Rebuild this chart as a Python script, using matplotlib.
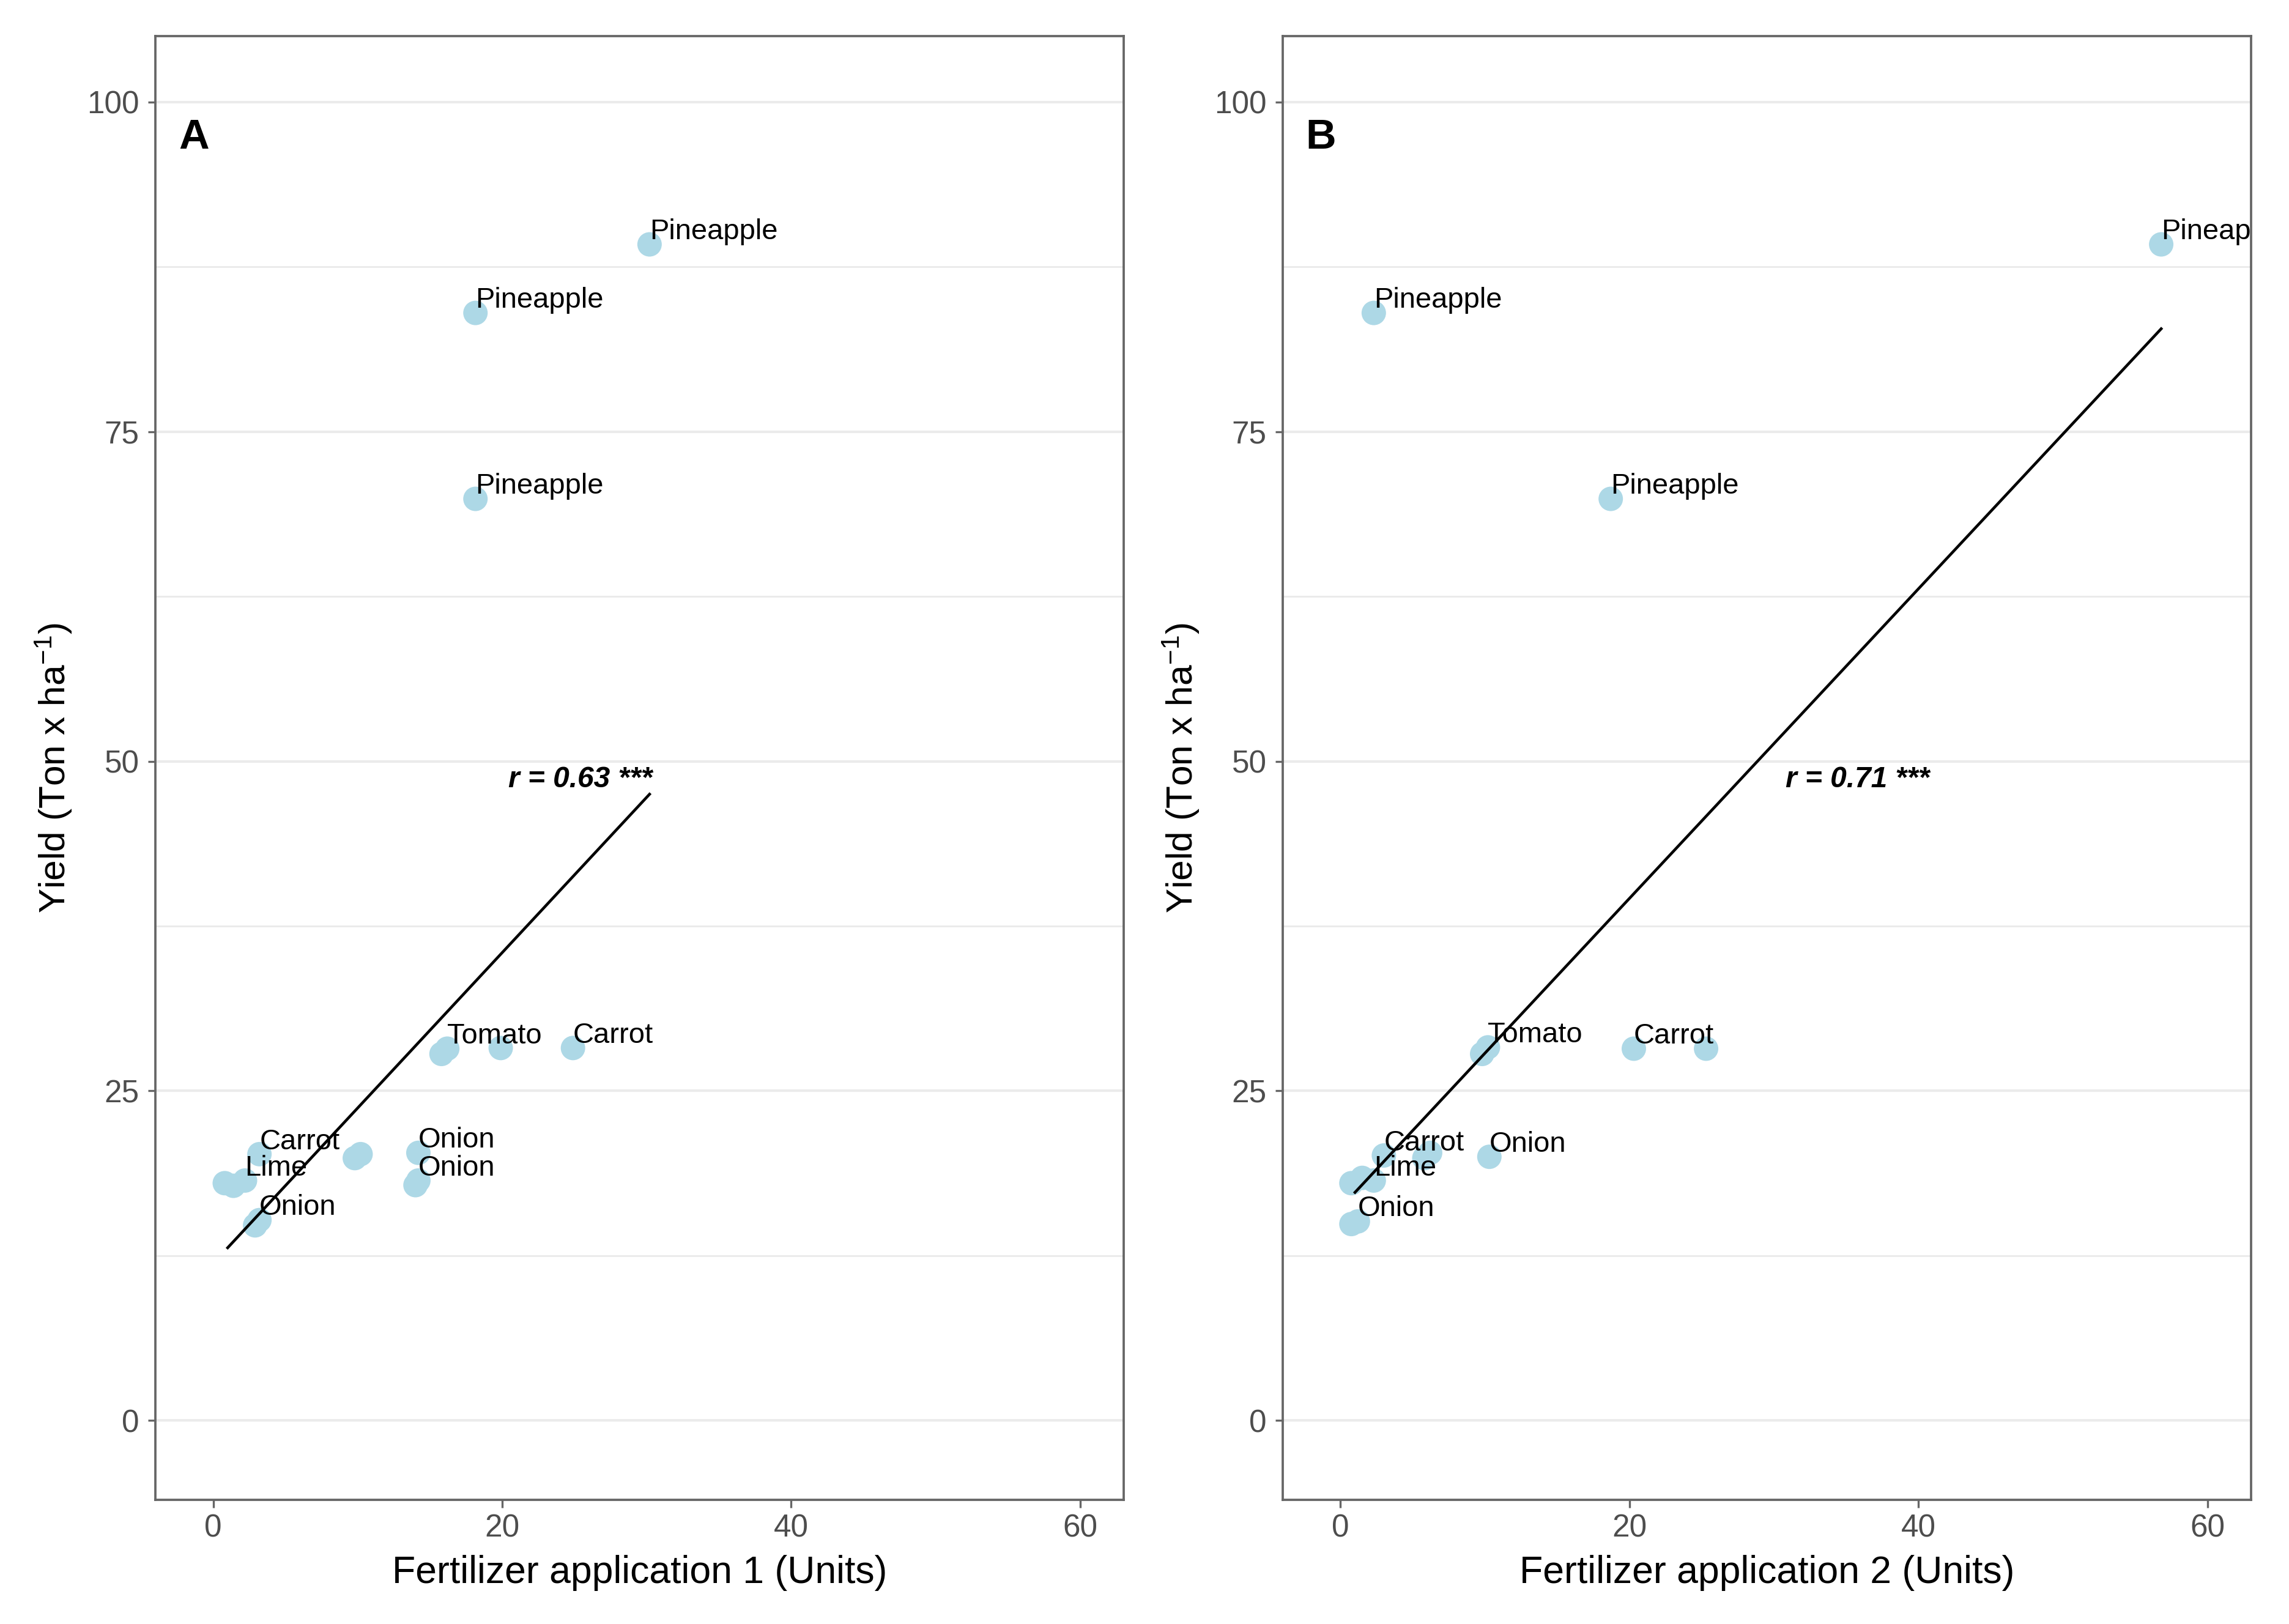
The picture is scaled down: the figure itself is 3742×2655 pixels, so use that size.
"""Yield vs fertilizer application, two panels with linear fits."""
import matplotlib
matplotlib.use("Agg")
import matplotlib.pyplot as plt
from matplotlib.ticker import MultipleLocator

plt.rcParams["font.family"] = ["Liberation Sans", "DejaVu Sans"]
plt.rcParams["mathtext.fontset"] = "custom"
plt.rcParams["mathtext.rm"] = "Liberation Sans"
plt.rcParams["mathtext.it"] = "Liberation Sans:italic"

DOT = "#ADD8E6"
GRID = "#EBEBEB"
FRAME = "#666666"

# panel A
fert1 = [30.2, 18.15, 18.15, 15.8, 16.2, 19.9, 24.9, 9.8, 10.2, 14.2, 14.0, 14.2,
         0.8, 1.4, 2.2, 3.2, 2.9, 3.2]
yield1 = [89.2, 84.0, 69.9, 27.8, 28.2, 28.25, 28.25, 19.9, 20.2, 20.3, 17.85, 18.2,
          18.0, 17.8, 18.2, 20.2, 14.8, 15.2]
labels1 = ["Pineapple", "Pineapple", "Pineapple", "", "Tomato", "", "Carrot", "", "",
           "Onion", "", "Onion", "", "", "Lime", "Carrot", "", "Onion"]
fit_x1 = [1.0, 30.2]
fit_y1 = [13.1, 47.5]
r_text1 = "r = 0.63 ***"
r_pos1 = (25.4, 48.6)

# panel B
fert2 = [56.8, 2.3, 18.7, 9.8, 10.2, 20.3, 25.3, 10.3, 3.0, 5.8, 6.2,
         0.75, 1.5, 2.3, 0.75, 1.2]
yield2 = [89.2, 84.0, 69.9, 27.8, 28.3, 28.2, 28.2, 20.0, 20.1, 19.9, 20.3,
          18.0, 18.4, 18.2, 14.9, 15.1]
labels2 = ["Pineapple", "Pineapple", "Pineapple", "", "Tomato", "Carrot", "", "Onion",
           "Carrot", "", "", "", "", "Lime", "", "Onion"]
fit_x2 = [1.0, 56.8]
fit_y2 = [17.3, 82.8]
r_text2 = "r = 0.71 ***"
r_pos2 = (35.8, 48.6)

y_ticks = [0, 25, 50, 75, 100]
x_ticks = [0, 20, 40, 60]


def panel(ax, x, y, labels, fit_x, fit_y, r_text, r_pos, letter, xlabel):
    ax.set_xlim(-4, 63)
    ax.set_ylim(-6, 105)
    ax.set_yticks(y_ticks)
    ax.set_xticks(x_ticks)
    ax.yaxis.set_minor_locator(MultipleLocator(12.5))
    ax.grid(axis="y", which="major", color=GRID, lw=1.0, zorder=0)
    ax.grid(axis="y", which="minor", color=GRID, lw=0.7, zorder=0)
    ax.set_axisbelow(True)
    for s in ax.spines.values():
        s.set_color(FRAME)
        s.set_linewidth(0.9)
    ax.tick_params(which="major", length=3, width=0.8, color=FRAME,
                   labelsize=12.3, labelcolor="#4D4D4D")
    ax.tick_params(axis="x", pad=2.5)
    ax.tick_params(axis="y", pad=3.3)
    ax.tick_params(which="minor", length=0)

    ax.scatter(x, y, s=92, color=DOT, edgecolors="none", zorder=2)
    ax.plot(fit_x, fit_y, color="black", lw=1.1, zorder=3)
    for xi, yi, lab in zip(x, y, labels):
        if lab:
            ax.annotate(lab, (xi, yi), xytext=(0, 2), textcoords="offset points",
                        ha="left", va="baseline", fontsize=11.3, zorder=4,
                        annotation_clip=False, clip_on=True)
    ax.text(r_pos[0], r_pos[1], r_text, ha="center", va="center",
            fontsize=11.5, fontweight="bold", fontstyle="italic")
    ax.text(-2.4, 97.3, letter, ha="left", va="center", fontsize=16.5,
            fontweight="bold")
    ax.set_xlabel(xlabel, fontsize=15, labelpad=4.5)
    ax.set_ylabel("Yield (Ton x ha$^{-1}$)", fontsize=14.5, labelpad=5)


fig = plt.figure(figsize=(3742 / 300, 2655 / 300), dpi=300)
ax1 = fig.add_axes([0.0679, 0.0766, 0.4229, 0.9012])
ax2 = fig.add_axes([0.5604, 0.0766, 0.4229, 0.9012])

panel(ax1, fert1, yield1, labels1, fit_x1, fit_y1, r_text1, r_pos1, "A",
      "Fertilizer application 1 (Units)")
panel(ax2, fert2, yield2, labels2, fit_x2, fit_y2, r_text2, r_pos2, "B",
      "Fertilizer application 2 (Units)")

fig.savefig("out.png", dpi=300)
